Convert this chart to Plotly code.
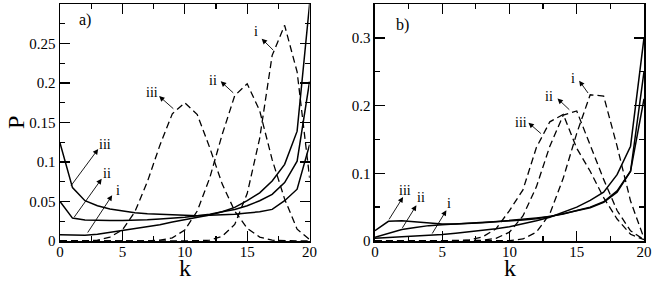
import plotly.graph_objects as go

# ---------------- data ----------------
k = list(range(21))

# panel a)
a_solid_i = [0.0078, 0.0075, 0.0073, 0.0085, 0.011, 0.013, 0.0153, 0.018, 0.0207, 0.024, 0.027,
             0.030, 0.033, 0.037, 0.0425, 0.051, 0.061, 0.076, 0.097, 0.139, 0.30]
a_solid_ii = [0.050, 0.029, 0.0266, 0.026, 0.026, 0.026, 0.0262, 0.027, 0.028, 0.029, 0.030,
              0.032, 0.034, 0.037, 0.040, 0.0446, 0.051, 0.059, 0.074, 0.101, 0.202]
a_solid_iii = [0.124, 0.0676, 0.051, 0.0446, 0.0404, 0.038, 0.0358, 0.0345, 0.0337, 0.033, 0.032,
               0.032, 0.0325, 0.033, 0.034, 0.0354, 0.037, 0.040, 0.051, 0.0656, 0.122]
a_dash_i = [0, 0, 0, 0, 0, 0, 0, 0, 0, 0, 0.0001,
            0.0003, 0.001, 0.006, 0.021, 0.060, 0.130, 0.235, 0.273, 0.214, 0.080]
a_dash_ii = [0, 0, 0, 0, 0, 0, 0, 0, 0.001, 0.004, 0.014,
             0.038, 0.080, 0.135, 0.184, 0.199, 0.165, 0.103, 0.053, 0.015, 0.002]
a_dash_iii = [0, 0, 0.0002, 0.001, 0.005, 0.014, 0.037, 0.075, 0.121, 0.161, 0.175,
              0.160, 0.118, 0.072, 0.038, 0.016, 0.005, 0.001, 0.0002, 0, 0]

# panel b)
b_solid_i = [0.004, 0.005, 0.0056, 0.007, 0.008, 0.0097, 0.0115, 0.0135, 0.0154, 0.018, 0.021,
             0.025, 0.030, 0.035, 0.042, 0.050, 0.060, 0.072, 0.098, 0.140, 0.30]
b_solid_ii = [0.0056, 0.011, 0.017, 0.020, 0.0227, 0.024, 0.025, 0.026, 0.027, 0.028, 0.029,
              0.031, 0.033, 0.036, 0.040, 0.045, 0.050, 0.058, 0.074, 0.103, 0.25]
b_solid_iii = [0.0154, 0.029, 0.030, 0.028, 0.026, 0.025, 0.0252, 0.0258, 0.027, 0.0285, 0.030,
               0.032, 0.034, 0.036, 0.040, 0.044, 0.049, 0.057, 0.072, 0.103, 0.21]
b_dash_i = [0, 0, 0, 0, 0, 0, 0, 0, 0, 0.0002, 0.0005,
            0.003, 0.013, 0.040, 0.093, 0.159, 0.216, 0.214, 0.140, 0.059, 0.004]
b_dash_ii = [0, 0, 0, 0, 0, 0, 0, 0, 0.001, 0.004, 0.013,
             0.037, 0.080, 0.140, 0.186, 0.192, 0.142, 0.091, 0.045, 0.015, 0.002]
b_dash_iii = [0, 0, 0, 0, 0, 0, 0, 0.0015, 0.006, 0.018, 0.045,
              0.0755, 0.138, 0.176, 0.187, 0.137, 0.103, 0.064, 0.0325, 0.010, 0.002]

x_ticks = [0, 5, 10, 15, 20]
a_y_ticks = [0, 0.05, 0.1, 0.15, 0.2, 0.25]
b_y_ticks = [0, 0.1, 0.2, 0.3]

FONT = "Liberation Serif, Times New Roman, Times, serif"

fig = go.Figure()

def add(xs, ys, dashed, xa, ya):
    fig.add_trace(go.Scatter(
        x=xs, y=ys, mode="lines", xaxis=xa, yaxis=ya, showlegend=False,
        hoverinfo="skip",
        line=dict(color="black", width=1.3 if dashed else 1.5,
                  dash="7px,4px" if dashed else "solid")))

for s in (a_solid_i, a_solid_ii, a_solid_iii):
    add(k, s, False, "x", "y")
for s in (a_dash_i, a_dash_ii, a_dash_iii):
    add(k, s, True, "x", "y")
for s in (b_solid_i, b_solid_ii, b_solid_iii):
    add(k, s, False, "x2", "y2")
for s in (b_dash_i, b_dash_ii, b_dash_iii):
    add(k, s, True, "x2", "y2")

def axis(**kw):
    d = dict(showline=True, linecolor="black", linewidth=1.5, mirror="ticks",
             ticks="inside", ticklen=10, tickwidth=1.3, tickcolor="black",
             showgrid=False, zeroline=False,
             tickfont=dict(family=FONT, size=15, color="black"))
    d.update(kw)
    return d

def minor(dt):
    return dict(ticks="inside", ticklen=5, tickwidth=1.3, tickcolor="black", dtick=dt, tick0=0)

fig.update_layout(
    width=654, height=283,
    margin=dict(l=60, r=9, t=2, b=42),
    paper_bgcolor="white", plot_bgcolor="white",
    xaxis=axis(domain=[0, 0.4274], range=[0, 20], tickvals=x_ticks, anchor="y",
               ticklabelstandoff=-4, minor=minor(2.5)),
    yaxis=axis(domain=[0, 1], range=[0, 0.3], tickvals=a_y_ticks, anchor="x",
               minor=minor(0.025)),
    xaxis2=axis(domain=[0.5393, 1], range=[0, 20], tickvals=x_ticks, anchor="y2",
                ticklabelstandoff=-4, minor=minor(2.5)),
    yaxis2=axis(domain=[0, 1], range=[0, 0.35], tickvals=b_y_ticks, anchor="x2",
                minor=minor(0.05)),
)

ann = []
# axis titles
ann.append(dict(text="P", xref="paper", yref="paper", x=-0.076, y=0.5, showarrow=False,
                textangle=-90, font=dict(family=FONT, size=24, color="black"),
                xanchor="center", yanchor="middle"))
for xc in (0.2137, 0.7697):
    ann.append(dict(text="k", xref="paper", yref="paper", x=xc, y=-0.115, showarrow=False,
                    font=dict(family=FONT, size=24, color="black"),
                    xanchor="center", yanchor="middle"))
# panel labels
ann.append(dict(text="a)", xref="x", yref="y", x=2.0, y=0.2798, showarrow=False,
                font=dict(family=FONT, size=16, color="black")))
ann.append(dict(text="b)", xref="x2", yref="y2", x=2.06, y=0.3197, showarrow=False,
                font=dict(family=FONT, size=16, color="black")))

# arrow labels: (label, xref, yref, tail, head, text position)
labels = [
    ("i", "x", "y", (17.2, 0.2398), (16.16, 0.2561), (15.72, 0.265)),
    ("ii", "x", "y", (14.0, 0.1858), (12.88, 0.2021), (12.22, 0.2035)),
    ("iii", "x", "y", (9.2, 0.1658), (7.94, 0.1834), (7.36, 0.1883)),
    ("iii", "x", "y", (0.8, 0.0682), (3.06, 0.1164), (3.6, 0.1219)),
    ("ii", "x", "y", (1.06, 0.0285), (3.34, 0.0788), (3.76, 0.0854)),
    ("i", "x", "y", (2.14, 0.0088), (4.18, 0.0578), (4.62, 0.064)),
    ("i", "x2", "y2", (15.92, 0.2163), (15.18, 0.2368), (14.73, 0.2406)),
    ("ii", "x2", "y2", (14.56, 0.1918), (13.57, 0.2104), (12.95, 0.2138)),
    ("iii", "x2", "y2", (12.45, 0.1567), (11.41, 0.1747), (10.82, 0.1755)),
    ("iii", "x2", "y2", (0.98, 0.0297), (2.09, 0.0649), (2.26, 0.0747)),
    ("ii", "x2", "y2", (1.97, 0.0171), (3.08, 0.0527), (3.4, 0.064)),
    ("i", "x2", "y2", (4.19, 0.0088), (5.31, 0.0454), (5.48, 0.0561)),
]
for lab, xr, yr, tail, head, tp in labels:
    ann.append(dict(text="", xref=xr, yref=yr, x=head[0], y=head[1],
                    axref=xr, ayref=yr, ax=tail[0], ay=tail[1],
                    showarrow=True, arrowhead=2, arrowsize=1.2, arrowwidth=0.9,
                    arrowcolor="black", standoff=0, startstandoff=0))
    ann.append(dict(text=lab, xref=xr, yref=yr, x=tp[0], y=tp[1], showarrow=False,
                    font=dict(family=FONT, size=14, color="black"),
                    xanchor="center", yanchor="middle"))

fig.update_layout(annotations=ann, hovermode=False)
fig.write_html(
    "out.html",
    config={"displayModeBar": False, "staticPlot": True},
    post_script="document.body.style.margin='0';document.body.style.padding='0';"
                "document.documentElement.style.margin='0';",
)
